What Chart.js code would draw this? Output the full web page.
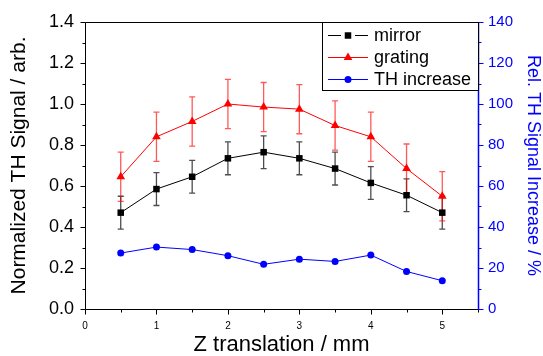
<!DOCTYPE html>
<html>
<head>
<meta charset="utf-8">
<script src="https://cdn.jsdelivr.net/npm/chart.js@4.4.0/dist/chart.umd.min.js"></script>
<style>
  html, body { margin: 0; padding: 0; background: #fff; }
  canvas { display: block; }
</style>
</head>
<body>
<canvas id="chart" width="543" height="356"></canvas>
<script>
// data
const zPositions    = [0.5, 1.0, 1.5, 2.0, 2.5, 3.0, 3.5, 4.0, 4.5, 5.0];
const mirrorSignal  = [0.47, 0.585, 0.645, 0.735, 0.765, 0.735, 0.685, 0.615, 0.555, 0.47];
const mirrorError   = [0.08, 0.08, 0.08, 0.08, 0.08, 0.08, 0.08, 0.08, 0.08, 0.08];
const gratingSignal = [0.645, 0.84, 0.915, 1.0, 0.985, 0.975, 0.895, 0.84, 0.685, 0.55];
const gratingError  = [0.12, 0.12, 0.12, 0.12, 0.12, 0.12, 0.12, 0.12, 0.12, 0.12];
const thIncrease    = [27.3, 30.2, 29.0, 26.0, 21.8, 24.3, 23.2, 26.3, 18.3, 13.8];

const seriesLabels = ['mirror', 'grating', 'TH increase'];
const xLabelTicks  = [0, 1, 2, 3, 4, 5];
const yLabelTicks  = [0, 0.2, 0.4, 0.6, 0.8, 1.0, 1.2, 1.4];
const y1LabelTicks = [0, 20, 40, 60, 80, 100, 120, 140];

const FONT = "'Liberation Sans', Arial, sans-serif";
const BLUE = '#0000ff';

const toPoints = (ys) => zPositions.map((x, i) => ({ x: x, y: ys[i] }));
const near = (list, v) => list.some(t => Math.abs(t - v) < 1e-6);

// error bars (drawn under the lines/markers)
const errorBars = {
    id: 'errorBars',
    beforeDatasetsDraw(chart) {
        const ctx = chart.ctx;
        const xs = chart.scales.x, ys = chart.scales.y;
        const sets = [
            { vals: mirrorSignal, err: mirrorError, color: 'rgba(0,0,0,0.7)' },
            { vals: gratingSignal, err: gratingError, color: 'rgba(255,0,0,0.65)' }
        ];
        ctx.save();
        ctx.lineWidth = 1.3;
        sets.forEach(s => {
            ctx.strokeStyle = s.color;
            zPositions.forEach((z, i) => {
                const px = xs.getPixelForValue(z);
                const top = ys.getPixelForValue(s.vals[i] + s.err[i]);
                const bot = ys.getPixelForValue(s.vals[i] - s.err[i]);
                ctx.beginPath();
                ctx.moveTo(px, top); ctx.lineTo(px, bot);
                ctx.moveTo(px - 3, top); ctx.lineTo(px + 3, top);
                ctx.moveTo(px - 3, bot); ctx.lineTo(px + 3, bot);
                ctx.stroke();
            });
        });
        ctx.restore();
    }
};

// axis lines + tick marks (major longer, minor shorter, all outward)
const axisFrame = {
    id: 'axisFrame',
    afterDraw(chart) {
        const ctx = chart.ctx;
        const a = chart.chartArea;
        const L = Math.round(a.left) + 0.5, R = Math.round(a.right) + 0.5;
        const T = Math.round(a.top) + 0.5, B = Math.round(a.bottom) + 0.5;
        ctx.save();
        ctx.lineWidth = 1;

        ctx.strokeStyle = '#000';
        ctx.beginPath();
        ctx.moveTo(L, T); ctx.lineTo(R, T);
        ctx.moveTo(L, B); ctx.lineTo(R, B);
        ctx.moveTo(L, T); ctx.lineTo(L, B);
        chart.scales.x.ticks.forEach(t => {
            const px = Math.round(chart.scales.x.getPixelForValue(t.value)) + 0.5;
            const len = near(xLabelTicks, t.value) ? 5 : 3;
            ctx.moveTo(px, B); ctx.lineTo(px, B + len);
        });
        chart.scales.y.ticks.forEach(t => {
            const py = Math.round(chart.scales.y.getPixelForValue(t.value)) + 0.5;
            const len = near(yLabelTicks, t.value) ? 5 : 3;
            ctx.moveTo(L, py); ctx.lineTo(L - len, py);
        });
        ctx.stroke();

        ctx.strokeStyle = BLUE;
        ctx.lineWidth = 1.5;
        ctx.beginPath();
        ctx.moveTo(R, T); ctx.lineTo(R, B);
        ctx.stroke();
        ctx.lineWidth = 1;
        ctx.beginPath();
        chart.scales.y1.ticks.forEach(t => {
            const py = Math.round(chart.scales.y1.getPixelForValue(t.value)) + 0.5;
            const len = near(y1LabelTicks, t.value) ? 5 : 3;
            ctx.moveTo(R, py); ctx.lineTo(R + len, py);
        });
        ctx.stroke();
        ctx.restore();
    }
};

function drawMarker(ctx, style, x, y, r) {
    ctx.beginPath();
    if (style === 'rect') {
        const s = r * Math.SQRT1_2;
        ctx.rect(x - s, y - s, 2 * s, 2 * s);
    } else if (style === 'triangle') {
        ctx.moveTo(x, y - r);
        ctx.lineTo(x + r * Math.sin(Math.PI / 3), y + r * 0.5);
        ctx.lineTo(x - r * Math.sin(Math.PI / 3), y + r * 0.5);
        ctx.closePath();
    } else {
        ctx.arc(x, y, r, 0, Math.PI * 2);
    }
    ctx.fill();
}

// boxed legend inside the top right corner of the plot
const boxLegend = {
    id: 'boxLegend',
    afterDraw(chart) {
        const ctx = chart.ctx;
        const a = chart.chartArea;
        const x0 = 322.5, y0 = Math.round(a.top) + 0.5;
        const w = Math.round(a.right) - 322, h = 68;
        ctx.save();
        ctx.fillStyle = '#fff';
        ctx.fillRect(x0, y0, w, h);
        ctx.strokeStyle = '#000';
        ctx.lineWidth = 1;
        ctx.strokeRect(x0, y0, w, h);
        chart.data.datasets.forEach((ds, i) => {
            const cy = y0 + 13 + i * 22;
            ctx.strokeStyle = ds.borderColor;
            ctx.beginPath();
            if (i === 0) {
                ctx.moveTo(328, cy); ctx.lineTo(341, cy);
                ctx.moveTo(355, cy); ctx.lineTo(368, cy);
            } else {
                ctx.moveTo(328, cy); ctx.lineTo(368, cy);
            }
            ctx.stroke();
            ctx.fillStyle = ds.pointBackgroundColor;
            drawMarker(ctx, ds.pointStyle, 348, cy, ds.pointRadius);
            ctx.fillStyle = '#000';
            ctx.font = '18px ' + FONT;
            ctx.textBaseline = 'middle';
            ctx.fillText(ds.label, 374, cy + 1);
        });
        ctx.restore();
    }
};

new Chart(document.getElementById('chart').getContext('2d'), {
    type: 'line',
    data: {
        datasets: [
            {
                label: seriesLabels[0],
                data: toPoints(mirrorSignal),
                yAxisID: 'y',
                borderColor: '#000',
                borderWidth: 1,
                pointStyle: 'rect',
                pointRadius: 4.6,
                pointBackgroundColor: '#000',
                pointBorderWidth: 0,
                tension: 0
            },
            {
                label: seriesLabels[1],
                data: toPoints(gratingSignal),
                yAxisID: 'y',
                borderColor: '#ff0000',
                borderWidth: 1,
                pointStyle: 'triangle',
                pointRadius: 5,
                pointBackgroundColor: '#ff0000',
                pointBorderWidth: 0,
                tension: 0
            },
            {
                label: seriesLabels[2],
                data: toPoints(thIncrease),
                yAxisID: 'y1',
                borderColor: BLUE,
                borderWidth: 1,
                pointStyle: 'circle',
                pointRadius: 3.5,
                pointBackgroundColor: BLUE,
                pointBorderWidth: 0,
                tension: 0
            }
        ]
    },
    options: {
        responsive: false,
        animation: false,
        layout: { padding: { top: 22, left: 0, right: 0, bottom: 0 } },
        plugins: {
            legend: { display: false },
            tooltip: { enabled: false }
        },
        scales: {
            x: {
                type: 'linear',
                min: 0,
                max: 5.5,
                afterFit: (s) => { s.height = 47; },
                grid: { display: false, drawTicks: false },
                border: { display: false },
                ticks: {
                    stepSize: 0.5,
                    autoSkip: false,
                    maxRotation: 0,
                    padding: 11,
                    color: '#000',
                    font: { family: FONT, size: 10 },
                    callback: (v) => near(xLabelTicks, v) ? String(v) : ''
                },
                title: {
                    display: true,
                    text: 'Z translation / mm',
                    color: '#000',
                    font: { family: FONT, size: 22, lineHeight: 1 },
                    padding: { top: 0, bottom: 0 }
                }
            },
            y: {
                position: 'left',
                min: 0,
                max: 1.4,
                afterFit: (s) => { s.width = 85; },
                grid: { display: false, drawTicks: false },
                border: { display: false },
                ticks: {
                    stepSize: 0.1,
                    autoSkip: false,
                    padding: 11,
                    color: '#000',
                    font: { family: FONT, size: 18 },
                    callback: (v) => near(yLabelTicks, v) ? v.toFixed(1) : ''
                },
                title: {
                    display: true,
                    text: 'Normalized TH Signal / arb.',
                    color: '#000',
                    font: { family: FONT, size: 21, lineHeight: 1 },
                    padding: { top: 9, bottom: 0 }
                }
            },
            y1: {
                position: 'right',
                min: 0,
                max: 140,
                afterFit: (s) => { s.width = 65; },
                grid: { display: false, drawTicks: false },
                border: { display: false },
                ticks: {
                    stepSize: 10,
                    autoSkip: false,
                    padding: 10,
                    color: BLUE,
                    font: { family: FONT, size: 15 },
                    callback: (v) => near(y1LabelTicks, v) ? String(v) : ''
                },
                title: {
                    display: true,
                    text: 'Rel. TH Signal Increase / %',
                    color: BLUE,
                    font: { family: FONT, size: 18, lineHeight: 1 },
                    padding: { top: 1, bottom: 0 }
                }
            }
        }
    },
    plugins: [errorBars, axisFrame, boxLegend]
});
</script>
</body>
</html>
